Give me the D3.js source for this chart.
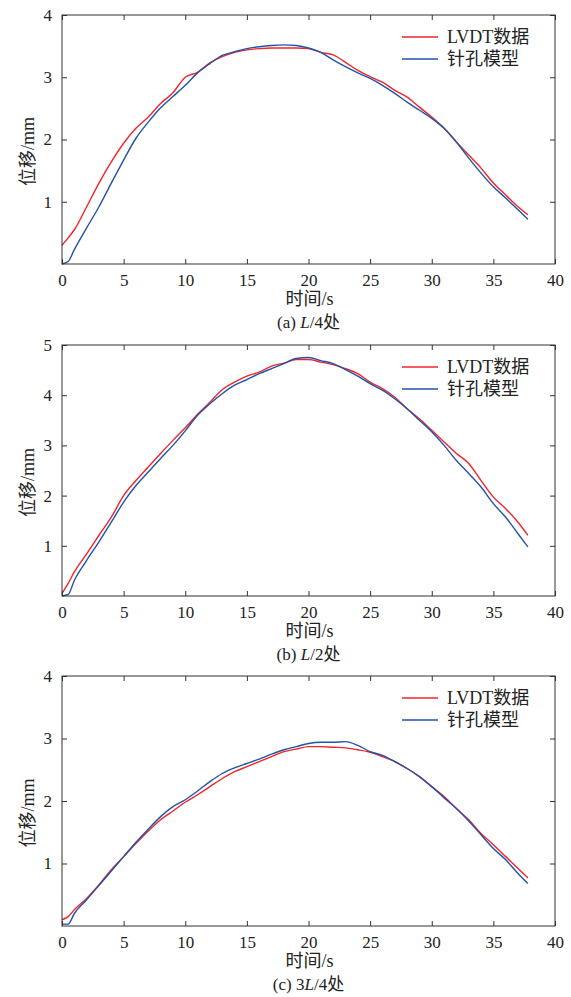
<!DOCTYPE html>
<html>
<head>
<meta charset="utf-8">
<script src="https://cdn.jsdelivr.net/npm/d3@7"></script>
<style>
  body { margin: 0; background: #fff; }
  svg { display: block; }
  text { font-family: "Liberation Serif", "Times New Roman", "Noto Sans CJK SC", serif; fill: #222; }
</style>
</head>
<body>
<svg id="chart" width="571" height="997"></svg>
<script>
// Time axis samples (s)
const time = [0,0.5,1,2,3,4,5,6,7,8,9,10,11,12,13,14,15,16,17,18,19,20,21,22,23,24,25,26,27,28,29,30,31,32,33,34,35,36,37,37.8];

// Panel (a) L/4
const lvdtA = [0.30,0.42,0.55,0.92,1.30,1.64,1.94,2.18,2.36,2.58,2.75,3.00,3.08,3.23,3.33,3.40,3.44,3.46,3.47,3.47,3.47,3.46,3.40,3.36,3.24,3.11,3.01,2.92,2.79,2.68,2.52,2.36,2.18,1.96,1.75,1.54,1.30,1.11,0.92,0.79];
const pinA  = [0.00,0.04,0.23,0.58,0.92,1.30,1.67,2.02,2.28,2.51,2.69,2.87,3.07,3.22,3.35,3.41,3.46,3.49,3.51,3.52,3.51,3.47,3.40,3.28,3.17,3.07,2.98,2.87,2.74,2.60,2.47,2.34,2.18,1.96,1.70,1.46,1.24,1.06,0.87,0.72];

// Panel (b) L/2
const lvdtB = [0.05,0.25,0.48,0.84,1.21,1.57,2.00,2.30,2.57,2.84,3.10,3.35,3.62,3.86,4.11,4.26,4.38,4.46,4.58,4.64,4.71,4.71,4.66,4.61,4.53,4.43,4.26,4.13,3.96,3.73,3.53,3.30,3.07,2.84,2.64,2.30,1.97,1.74,1.47,1.21];
const pinB  = [0.00,0.03,0.31,0.71,1.08,1.47,1.87,2.20,2.47,2.74,3.00,3.29,3.60,3.83,4.03,4.20,4.31,4.43,4.53,4.63,4.73,4.75,4.69,4.63,4.51,4.38,4.23,4.10,3.93,3.73,3.50,3.27,3.00,2.70,2.44,2.17,1.84,1.57,1.24,0.98];

// Panel (c) 3L/4
const lvdtC = [0.10,0.15,0.26,0.44,0.66,0.90,1.11,1.32,1.52,1.70,1.84,1.98,2.10,2.23,2.36,2.47,2.55,2.63,2.71,2.79,2.83,2.87,2.87,2.86,2.85,2.82,2.78,2.71,2.63,2.52,2.39,2.23,2.07,1.88,1.70,1.48,1.30,1.11,0.92,0.77];
const pinC  = [0.03,0.03,0.20,0.42,0.65,0.88,1.11,1.34,1.55,1.75,1.91,2.02,2.16,2.31,2.44,2.53,2.60,2.67,2.75,2.82,2.87,2.92,2.94,2.94,2.95,2.89,2.79,2.73,2.63,2.52,2.39,2.23,2.05,1.88,1.68,1.46,1.24,1.06,0.84,0.68];

const xTicks = [0,5,10,15,20,25,30,35,40];
const yTicksA = [1,2,3,4];
const yTicksB = [1,2,3,4,5];
const yTicksC = [1,2,3,4];
const seriesNames = ["LVDT数据", "针孔模型"];
const xLabel = "时间/s";
const yLabel = "位移/mm";
const captions = [["(a) ", "L", "/4处"], ["(b) ", "L", "/2处"], ["(c) 3", "L", "/4处"]];

const colors = ["#f2242b", "#2253a6"];

const panels = [
  { top: 15,  bottom: 264, ymax: 4, yTicks: yTicksA, series: [lvdtA, pinA], caption: captions[0] },
  { top: 345, bottom: 596, ymax: 5, yTicks: yTicksB, series: [lvdtB, pinB], caption: captions[1] },
  { top: 676, bottom: 926, ymax: 4, yTicks: yTicksC, series: [lvdtC, pinC], caption: captions[2] }
];

const svg = d3.select("#chart");
const left = 62, right = 555;
const axisColor = "#333";

panels.forEach(p => {
  const x = d3.scaleLinear().domain([0, 40]).range([left, right]);
  const y = d3.scaleLinear().domain([0, p.ymax]).range([p.bottom, p.top]);
  const g = svg.append("g");

  // Lines
  p.series.forEach((vals, i) => {
    const line = d3.line().curve(d3.curveMonotoneX).x((d, k) => x(time[k])).y(d => y(d));
    g.append("path").datum(vals)
      .attr("fill", "none").attr("stroke", colors[i])
      .attr("stroke-width", 1.4).attr("stroke-linejoin", "round")
      .attr("d", line);
  });

  // Axes
  const styleAxis = sel => {
    sel.select(".domain").remove();
    sel.selectAll(".tick line").attr("stroke", axisColor);
    sel.selectAll(".tick text").attr("font-size", 17).attr("fill", "#222");
  };
  g.append("g").attr("transform", `translate(0,${p.bottom})`)
    .call(d3.axisBottom(x).tickValues(xTicks).tickSizeInner(-5).tickSizeOuter(0).tickPadding(10).tickFormat(d3.format("d")))
    .call(styleAxis);
  g.append("g").attr("transform", `translate(0,${p.top})`)
    .call(d3.axisTop(x).tickValues(xTicks).tickSizeInner(-5).tickSizeOuter(0).tickFormat(""))
    .call(styleAxis);
  g.append("g").attr("transform", `translate(${left},0)`)
    .call(d3.axisLeft(y).tickValues(p.yTicks).tickSizeInner(-5).tickSizeOuter(0).tickPadding(10).tickFormat(d3.format("d")))
    .call(styleAxis);
  g.append("g").attr("transform", `translate(${right},0)`)
    .call(d3.axisRight(y).tickValues(p.yTicks).tickSizeInner(-5).tickSizeOuter(0).tickFormat(""))
    .call(styleAxis);

  // Frame
  g.append("rect").attr("x", left).attr("y", p.top)
    .attr("width", right - left).attr("height", p.bottom - p.top)
    .attr("fill", "none").attr("stroke", axisColor).attr("stroke-width", 1);

  // Legend
  seriesNames.forEach((name, i) => {
    const ly = p.top + 22 + i * 22;
    g.append("line").attr("x1", 402).attr("x2", 438).attr("y1", ly).attr("y2", ly)
      .attr("stroke", colors[i]).attr("stroke-width", 1.4);
    g.append("text").attr("x", 447).attr("y", ly + 6).attr("font-size", 18).text(name);
  });

  // Axis labels
  g.append("text").attr("x", (left + right) / 2 + 1).attr("y", p.bottom + 41)
    .attr("text-anchor", "middle").attr("font-size", 18).text(xLabel);
  g.append("text")
    .attr("transform", `translate(34,${(p.top + p.bottom) / 2 + 12}) rotate(-90)`)
    .attr("text-anchor", "middle").attr("font-size", 18).text(yLabel);

  // Caption
  const cap = g.append("text").attr("x", (left + right) / 2).attr("y", p.bottom + 64)
    .attr("text-anchor", "middle").attr("font-size", 17);
  cap.append("tspan").text(p.caption[0]);
  cap.append("tspan").attr("font-style", "italic").text(p.caption[1]);
  cap.append("tspan").text(p.caption[2]);
});
</script>
</body>
</html>
